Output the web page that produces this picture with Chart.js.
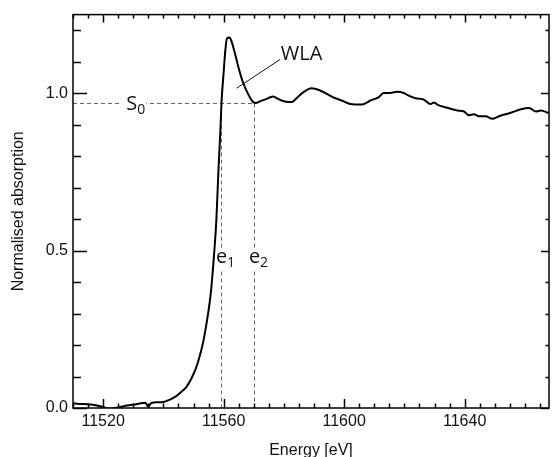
<!DOCTYPE html>
<html>
<head>
<meta charset="utf-8">
<script src="https://cdn.jsdelivr.net/npm/chart.js"></script>
<style>
  html, body { margin: 0; padding: 0; background: #fff; }
  canvas { display: block; }
</style>
</head>
<body>
<canvas id="xanesChart" width="554" height="457"></canvas>
<script>
// Spectre d'absorption normalise
const energy = [
  11510, 11512, 11515, 11518, 11520, 11522, 11525, 11528, 11531, 11534,
  11535, 11536, 11538, 11540, 11542, 11544, 11546, 11547.5, 11549, 11550,
  11551, 11552, 11553, 11554, 11555, 11555.7, 11556.4, 11557, 11557.6, 11558.3,
  11558.9, 11559.3, 11560, 11560.6, 11561.1, 11562, 11562.6, 11563.7, 11564.8, 11566.4,
  11568.1, 11569.6, 11570.7, 11572, 11573.7, 11576.4, 11578.1, 11580.3, 11582.6, 11584.2,
  11586.4, 11589.2, 11592, 11596.4, 11599.2, 11602, 11605.9, 11608.7, 11611.4, 11613.1,
  11615.3, 11617.6, 11619.8, 11620.9, 11623.7, 11626.4, 11628.7, 11629.8, 11630.9, 11634.2,
  11637.6, 11639.8, 11641.4, 11643.1, 11644.8, 11647, 11649.2, 11651.4, 11655.3, 11658.7,
  11661.4, 11663.7, 11665.3, 11668
];
const absorption = [
  0.015, 0.013, 0.012, 0.008, 0.003, -0.002, 0.002, 0.008, 0.012, 0.017,
  0.004, 0.016, 0.018, 0.019, 0.026, 0.036, 0.052, 0.065, 0.088, 0.108,
  0.132, 0.163, 0.200, 0.250, 0.310, 0.362, 0.435, 0.510, 0.600, 0.760,
  0.877, 0.972, 1.066, 1.140, 1.174, 1.177, 1.166, 1.129, 1.087, 1.035,
  0.998, 0.974, 0.969, 0.974, 0.980, 0.990, 0.982, 0.974, 0.972, 0.984,
  1.003, 1.016, 1.009, 0.987, 0.977, 0.966, 0.964, 0.977, 0.987, 1.001,
  1.001, 1.005, 1.001, 0.995, 0.984, 0.980, 0.966, 0.971, 0.964, 0.954,
  0.945, 0.942, 0.930, 0.933, 0.927, 0.927, 0.919, 0.927, 0.938, 0.949,
  0.953, 0.942, 0.945, 0.937
];

const xTickLabels = [11520, 11560, 11600, 11640];
const yTickLabels = [0, 0.5, 1.0];
const xMinorStep = 5;
const yMinorStep = 0.1;

// Reperes
const s0Level = 0.97;
const e1Energy = 11559;
const e2Energy = 11570;
const s0LabelEnergy = 11527.7;
const eLabelLevel = 0.46;
const wlaFrom = [11564.3, 1.016];
const wlaText = [11579, 1.107];

const tickFont = { family: 'Liberation Sans, Arial, sans-serif', size: 16 };
const titleFont = { family: 'Liberation Sans, Arial, sans-serif', size: 16, lineHeight: 1 };
const noteFont = '20px "Open Sans"';
const subFont = '14px "Open Sans"';

function drawLabel(ctx, main, sub, x, y, centerMain) {
  ctx.font = noteFont;
  const w = ctx.measureText(main).width;
  const left = centerMain ? x - w / 2 : x;
  ctx.fillText(main, left, y);
  ctx.font = subFont;
  ctx.fillText(sub, left + w, y + 4);
}

// Lignes pointillees et etiquettes
const annotations = {
  id: 'annotations',
  beforeDatasetsDraw(chart) {
    const { ctx, chartArea: a, scales: { x, y } } = chart;
    const yS0 = Math.round(y.getPixelForValue(s0Level)) + 0.5;
    const xE1 = Math.round(x.getPixelForValue(e1Energy)) + 0.5;
    const xE2 = Math.round(x.getPixelForValue(e2Energy)) + 0.5;
    ctx.save();
    ctx.strokeStyle = '#666';
    ctx.lineWidth = 1;
    ctx.setLineDash([4, 3]);
    ctx.beginPath();
    ctx.moveTo(a.left, yS0); ctx.lineTo(xE2, yS0);
    ctx.moveTo(xE1, yS0); ctx.lineTo(xE1, a.bottom);
    ctx.moveTo(xE2, yS0); ctx.lineTo(xE2, a.bottom);
    ctx.stroke();
    ctx.setLineDash([]);

    // trous blancs pour les etiquettes
    const xS0 = x.getPixelForValue(s0LabelEnergy);
    const yE = y.getPixelForValue(eLabelLevel);
    ctx.fillStyle = '#fff';
    ctx.fillRect(xS0 - 7, yS0 - 3, 27, 6);
    ctx.fillRect(xE1 - 3, yE - 15, 6, 21);
    ctx.fillRect(xE2 - 3, yE - 15, 6, 21);

    ctx.fillStyle = '#111';
    ctx.textBaseline = 'alphabetic';
    ctx.textAlign = 'left';
    drawLabel(ctx, 'S', '0', xS0, yS0 + 6.5, false);
    drawLabel(ctx, 'e', '1', xE1, yE, true);
    drawLabel(ctx, 'e', '2', xE2, yE, true);

    ctx.font = noteFont;
    ctx.fillText('WLA', x.getPixelForValue(wlaText[0]), y.getPixelForValue(wlaText[1]));
    ctx.strokeStyle = '#111';
    ctx.lineWidth = 1;
    ctx.beginPath();
    ctx.moveTo(x.getPixelForValue(wlaFrom[0]), y.getPixelForValue(wlaFrom[1]));
    ctx.lineTo(x.getPixelForValue(wlaText[0]) - 1, y.getPixelForValue(wlaText[1]));
    ctx.stroke();
    ctx.restore();
  }
};

// Cadre et graduations vers l'interieur
const frame = {
  id: 'frame',
  afterDatasetsDraw(chart) {
    const { ctx, chartArea: a, scales: { x, y } } = chart;
    ctx.save();
    ctx.strokeStyle = '#000';
    ctx.lineWidth = 1.5;
    ctx.strokeRect(a.left, a.top, a.right - a.left, a.bottom - a.top);
    ctx.beginPath();
    for (let v = x.min; v <= x.max; v += xMinorStep) {
      const px = Math.round(x.getPixelForValue(v)) + 0.5;
      const major = xTickLabels.includes(v);
      ctx.moveTo(px, a.bottom); ctx.lineTo(px, a.bottom - (major ? 9 : 4.5));
      ctx.moveTo(px, a.top); ctx.lineTo(px, a.top + (major ? 8 : 4));
    }
    for (let i = 0; i * yMinorStep <= y.max; i++) {
      const v = +(i * yMinorStep).toFixed(2);
      const py = Math.round(y.getPixelForValue(v)) + 0.5;
      const major = yTickLabels.includes(v);
      ctx.moveTo(a.left, py); ctx.lineTo(a.left + (major ? 14 : 8), py);
      ctx.moveTo(a.right, py); ctx.lineTo(a.right - (major ? 8 : 3.5), py);
    }
    ctx.stroke();
    ctx.restore();
  }
};

const ctx = document.getElementById('xanesChart').getContext('2d');
new Chart(ctx, {
  type: 'line',
  data: {
    datasets: [{
      label: 'Absorption',
      data: energy.map((e, i) => ({ x: e, y: absorption[i] })),
      borderColor: '#000',
      borderWidth: 2,
      pointRadius: 0,
      cubicInterpolationMode: 'monotone',
      fill: false
    }]
  },
  options: {
    responsive: false,
    animation: false,
    devicePixelRatio: 1,
    layout: { padding: { top: 13, right: 5, left: 0, bottom: 0 } },
    plugins: { legend: { display: false }, tooltip: { enabled: false } },
    scales: {
      x: {
        type: 'linear',
        min: 11510,
        max: 11668,
        afterBuildTicks: s => { s.ticks = xTickLabels.map(v => ({ value: v })); },
        afterFit: s => { s.height = 49; },
        grid: { display: false, drawTicks: false },
        border: { display: false },
        ticks: { font: tickFont, color: '#111', padding: 4, maxRotation: 0, autoSkip: false, callback: v => String(v) },
        title: { display: true, text: 'Energy [eV]', font: titleFont, color: '#111', padding: { top: 0, bottom: -2 } }
      },
      y: {
        min: 0,
        max: 1.25,
        afterBuildTicks: s => { s.ticks = yTickLabels.map(v => ({ value: v })); },
        afterFit: s => { s.width = 73; },
        grid: { display: false, drawTicks: false },
        border: { display: false },
        ticks: { font: tickFont, color: '#111', padding: 5, callback: v => v.toFixed(1) },
        title: { display: true, text: 'Normalised absorption', font: titleFont, color: '#111', padding: { top: 10.5, bottom: 0 } }
      }
    }
  },
  plugins: [annotations, frame]
});
</script>
</body>
</html>
